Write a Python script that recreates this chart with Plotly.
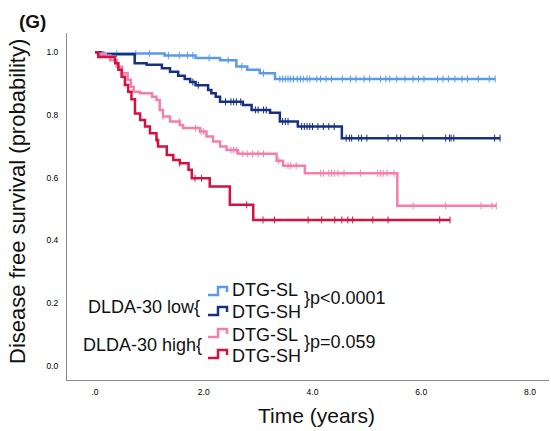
import numpy as np
import plotly.graph_objects as go

W, H = 551, 431
L, R, T, B = 67, 549, 33, 380  # plot area in pixels

# ---- data (Kaplan-Meier step curves) ----
ls_t = [0, 0.15, 1.28, 1.85, 2.3, 2.6, 2.8, 3.03, 3.31]
ls_s = [1.0, 0.996, 0.99, 0.982, 0.975, 0.955, 0.944, 0.933, 0.915]
ls_end = 7.36
ls_cens = [0.4, 0.75, 1.0, 1.35, 1.55, 1.7, 1.8, 2.1, 2.45, 2.7, 3.1, 3.4, 3.45, 3.5, 3.55,
           3.6, 3.65, 3.72, 3.78, 3.83, 3.9, 3.95, 4.08, 4.15, 4.25, 4.35, 4.55, 4.7, 4.8,
           4.95, 5.05, 5.25, 5.35, 5.42, 5.55, 5.7, 5.85, 5.95, 6.05, 6.3, 6.4, 6.5, 6.62,
           6.75, 6.85, 7.05, 7.25, 7.36]

lh_t = [0, 0.1, 0.73, 0.95, 1.23, 1.38, 1.53, 1.65, 1.75, 1.85, 2.08, 2.14, 2.22, 2.3,
        2.72, 2.88, 3.22, 3.4, 3.73, 4.54]
lh_s = [1.0, 0.994, 0.965, 0.96, 0.949, 0.938, 0.925, 0.915, 0.905, 0.895, 0.88, 0.869,
        0.858, 0.842, 0.832, 0.816, 0.807, 0.779, 0.763, 0.726]
lh_end = 7.45
lh_cens = [1.8, 1.9, 2.4, 2.5, 2.55, 2.6, 2.68, 2.95, 3.0, 3.1, 3.15, 3.45, 3.5, 3.55,
           3.8, 3.85, 3.9, 3.95, 4.0, 4.1, 4.2, 4.3, 4.4, 4.62, 4.68, 4.72, 4.85, 4.9,
           5.0, 5.39, 5.55, 5.62, 6.03, 6.45, 6.52, 6.55, 6.6, 7.35, 7.45]

hl_t = [0, 0.05, 0.2, 0.28, 0.4, 0.5, 0.6, 0.66, 0.71, 0.83, 1.05, 1.13, 1.19, 1.25, 1.38,
        1.56, 1.62, 1.93, 2.05, 2.17, 2.3, 2.42, 2.63, 3.34, 3.46, 3.86, 5.56]
hl_s = [1.0, 0.995, 0.99, 0.975, 0.954, 0.933, 0.912, 0.89, 0.874, 0.869, 0.858, 0.848,
        0.816, 0.795, 0.779, 0.768, 0.758, 0.747, 0.731, 0.715, 0.699, 0.688, 0.676,
        0.654, 0.638, 0.614, 0.51]
hl_end = 7.38
hl_cens = [1.25, 1.55, 1.85, 1.95, 2.0, 2.5, 2.55, 2.6, 2.72, 2.8, 2.9, 3.0, 3.1, 3.38,
           3.55, 3.6, 3.7, 4.15, 4.2, 4.3, 4.35, 4.4, 4.47, 4.58, 4.88, 5.2, 5.25, 5.3,
           5.37, 5.5, 5.85, 6.45, 7.1, 7.3, 7.38]

hh_t = [0, 0.06, 0.37, 0.43, 0.49, 0.55, 0.61, 0.67, 0.735, 0.83, 0.92, 1.01, 1.13, 1.16,
        1.32, 1.44, 1.56, 1.72, 1.78, 2.11, 2.48, 2.91]
hh_s = [1.0, 0.985, 0.965, 0.944, 0.922, 0.896, 0.874, 0.85, 0.805, 0.784, 0.763, 0.742,
        0.72, 0.699, 0.672, 0.656, 0.646, 0.625, 0.598, 0.572, 0.513, 0.465]
hh_end = 6.53
hh_cens = [1.14, 1.56, 1.84, 1.96, 2.79, 3.09, 3.3, 3.92, 4.17, 4.41, 4.54, 4.65, 4.74,
           5.11, 5.39, 6.34, 6.53]

x_tickvals = [0, 2, 4, 6, 8]
x_ticktext = [".0", "2.0", "4.0", "6.0", "8.0"]
y_tickvals = [0, 0.2, 0.4, 0.6, 0.8, 1.0]
y_ticktext = ["0.0", "0.2", "0.4", "0.6", "0.8", "1.0"]

C_LS = "#5a9be3"
C_LH = "#17307f"
C_HL = "#f47fac"
C_HH = "#d3123f"

groups = [
    (ls_t, ls_s, ls_end, ls_cens, C_LS),
    (lh_t, lh_s, lh_end, lh_cens, C_LH),
    (hl_t, hl_s, hl_end, hl_cens, C_HL),
    (hh_t, hh_s, hh_end, hh_cens, C_HH),
]

fig = go.Figure()
for t, s, end, cens, col in groups:
    xs = list(t) + [end]
    ys = list(s) + [s[-1]]
    fig.add_trace(go.Scatter(x=xs, y=ys, mode="lines", line=dict(color=col, width=2.5, shape="hv"),
                             hoverinfo="skip", showlegend=False))
    ta = np.array(t)
    sa = np.array(s)
    idx = np.searchsorted(ta, np.array(cens), side="right") - 1
    fig.add_trace(go.Scatter(x=cens, y=sa[idx], mode="markers",
                             marker=dict(symbol="line-ns", size=5, line=dict(color=col, width=1)),
                             hoverinfo="skip", showlegend=False))


def px(x):
    return (x - L) / (R - L)


def py(y):
    return (B - y) / (B - T)


FONT = "Liberation Sans, Arial, sans-serif"
ann = []


def text(x, y, s, size=18, xanchor="left", angle=0):
    ann.append(dict(x=px(x), y=py(y), xref="paper", yref="paper", text=s, showarrow=False,
                    xanchor=xanchor, yanchor="middle", textangle=angle,
                    font=dict(family=FONT, size=size, color="#111")))


text(86, 307, "DLDA-30 low{")
text(81, 345, "DLDA-30 high{")
text(230, 290, "DTG-SL")
text(230, 312, "DTG-SH")
text(230, 335, "DTG-SL")
text(230, 356, "DTG-SH")
text(302, 298, "}p&lt;0.0001")
text(302, 342, "}p=0.059")
text(316, 415, "Time (years)", size=21, xanchor="center")
text(17, 202, "Disease free survival (probability)", size=22, xanchor="center", angle=-90)
text(32, 21, "<b>(G)</b>", size=19, xanchor="center")

shapes = []
for base, top, col in [(295, 287, C_LS), (315, 307, C_LH), (337, 329, C_HL), (358, 350, C_HH)]:
    pts = [(208, base), (218, base), (218, top), (227, top), (227, base - 3)]
    path = "M " + " L ".join(f"{px(a):.4f},{py(b):.4f}" for a, b in pts)
    shapes.append(dict(type="path", path=path, xref="paper", yref="paper",
                       line=dict(color=col, width=2.5)))

fig.update_layout(
    width=W, height=H,
    margin=dict(l=L, r=W - R, t=T, b=H - B),
    plot_bgcolor="white", paper_bgcolor="white",
    annotations=ann, shapes=shapes,
    xaxis=dict(range=[-0.515, 8.35], tickvals=x_tickvals, ticktext=x_ticktext,
               showgrid=False, zeroline=False, showline=True, linecolor="#8c8c8c", linewidth=1,
               ticks="", tickfont=dict(family=FONT, size=8.5, color="#000"), ticklabelstandoff=4),
    yaxis=dict(range=[-0.046, 1.0616], tickvals=y_tickvals, ticktext=y_ticktext,
               showgrid=False, zeroline=False, showline=True, linecolor="#8c8c8c", linewidth=1,
               ticks="", tickfont=dict(family=FONT, size=8.5, color="#000"), ticklabelstandoff=6),
)
fig.update_xaxes(tickprefix="<b>", ticksuffix="</b>")
fig.update_yaxes(tickprefix="<b>", ticksuffix="</b>")

fig.write_html("out.html")
